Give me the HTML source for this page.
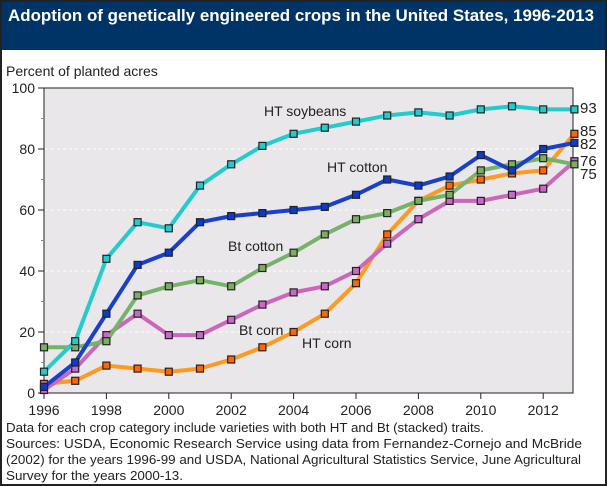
<!DOCTYPE html>
<html><head><meta charset="utf-8"><style>
body{margin:0;background:#fff}
svg{display:block;font-family:"Liberation Sans",Arial,sans-serif}
</style></head><body>
<svg width="607" height="486" viewBox="0 0 607 486" xmlns="http://www.w3.org/2000/svg">
<defs>
<marker id="mo" markerUnits="userSpaceOnUse" markerWidth="10" markerHeight="10" refX="5" refY="5" viewBox="0 0 10 10"><rect x="1.5" y="1.5" width="7" height="7" fill="#ff6600" stroke="#222" stroke-width="1.2"/></marker>
<marker id="mp" markerUnits="userSpaceOnUse" markerWidth="10" markerHeight="10" refX="5" refY="5" viewBox="0 0 10 10"><rect x="1.5" y="1.5" width="7" height="7" fill="#cc66cc" stroke="#222" stroke-width="1.2"/></marker>
<marker id="mg" markerUnits="userSpaceOnUse" markerWidth="10" markerHeight="10" refX="5" refY="5" viewBox="0 0 10 10"><rect x="1.5" y="1.5" width="7" height="7" fill="#7aaf60" stroke="#222" stroke-width="1.2"/></marker>
<marker id="mb" markerUnits="userSpaceOnUse" markerWidth="10" markerHeight="10" refX="5" refY="5" viewBox="0 0 10 10"><rect x="1.5" y="1.5" width="7" height="7" fill="#0a3ccc" stroke="#222" stroke-width="1.2"/></marker>
<marker id="mc" markerUnits="userSpaceOnUse" markerWidth="10" markerHeight="10" refX="5" refY="5" viewBox="0 0 10 10"><rect x="1.5" y="1.5" width="7" height="7" fill="#22cccc" stroke="#222" stroke-width="1.2"/></marker>
</defs>
<rect x="0" y="0" width="607" height="486" fill="#fff"/>
<rect x="0" y="0" width="607" height="50" fill="#003366"/>
<text x="8" y="21" fill="#fff" font-size="17" font-weight="bold" textLength="586" lengthAdjust="spacingAndGlyphs">Adoption of genetically engineered crops in the United States, 1996-2013</text>
<rect x="1" y="1" width="605" height="484" fill="none" stroke="#222" stroke-width="2"/>
<text x="6" y="76" font-size="14" fill="#222">Percent of planted acres</text>
<rect x="44" y="88" width="529" height="305" fill="#e9e7e9" stroke="#222" stroke-width="1"/>
<g stroke="#fff" stroke-dasharray="3,3" stroke-width="1">
<line x1="45" x2="572" y1="149" y2="149"/><line x1="45" x2="572" y1="210" y2="210"/>
<line x1="45" x2="572" y1="271" y2="271"/><line x1="45" x2="572" y1="332" y2="332"/>
</g>
<g stroke="#222" stroke-width="1">
<line x1="38" x2="44" y1="88" y2="88"/><line x1="38" x2="44" y1="149" y2="149"/><line x1="38" x2="44" y1="210" y2="210"/><line x1="38" x2="44" y1="271" y2="271"/><line x1="38" x2="44" y1="332" y2="332"/><line x1="38" x2="44" y1="393" y2="393"/>
<line x1="41" x2="44" y1="118.5" y2="118.5" stroke="#888"/><line x1="41" x2="44" y1="179.5" y2="179.5" stroke="#888"/><line x1="41" x2="44" y1="240.5" y2="240.5" stroke="#888"/><line x1="41" x2="44" y1="301.5" y2="301.5" stroke="#888"/><line x1="41" x2="44" y1="362.5" y2="362.5" stroke="#888"/>
<line x1="44" x2="44" y1="393" y2="399"/><line x1="106.4" x2="106.4" y1="393" y2="399"/><line x1="168.8" x2="168.8" y1="393" y2="399"/><line x1="231.2" x2="231.2" y1="393" y2="399"/><line x1="293.6" x2="293.6" y1="393" y2="399"/><line x1="356" x2="356" y1="393" y2="399"/><line x1="418.4" x2="418.4" y1="393" y2="399"/><line x1="480.8" x2="480.8" y1="393" y2="399"/><line x1="543.2" x2="543.2" y1="393" y2="399"/>
</g>
<g font-size="14" fill="#222" text-anchor="end">
<text x="35" y="93">100</text><text x="35" y="154">80</text><text x="35" y="215">60</text><text x="35" y="276">40</text><text x="35" y="337">20</text><text x="35" y="398">0</text>
</g>
<g font-size="14" fill="#222" text-anchor="middle">
<text x="44" y="415">1996</text><text x="106.4" y="415">1998</text><text x="168.8" y="415">2000</text><text x="231.2" y="415">2002</text><text x="293.6" y="415">2004</text><text x="356" y="415">2006</text><text x="418.4" y="415">2008</text><text x="480.8" y="415">2010</text><text x="543.2" y="415">2012</text>
</g>
<g fill="none" stroke-width="4" stroke-linejoin="round">
<polyline stroke="#ff9922" marker-start="url(#mo)" marker-mid="url(#mo)" marker-end="url(#mo)" points="44,383.9 75.2,380.8 106.4,365.6 137.6,368.6 168.8,371.7 200,368.6 231.2,359.5 262.4,347.3 293.6,332 324.8,313.7 356,283.2 387.2,234.4 418.4,200.9 449.6,185.6 480.8,179.5 512,173.4 543.2,170.4 574.4,133.8"/>
<polyline stroke="#cc66bb" marker-start="url(#mp)" marker-mid="url(#mp)" marker-end="url(#mp)" points="44,390 75.2,368.6 106.4,335.1 137.6,313.7 168.8,335.1 200,335.1 231.2,319.8 262.4,304.6 293.6,292.4 324.8,286.3 356,271 387.2,243.6 418.4,219.2 449.6,200.9 480.8,200.9 512,194.8 543.2,188.7 574.4,161.2"/>
<polyline stroke="#77b26a" marker-start="url(#mg)" marker-mid="url(#mg)" marker-end="url(#mg)" points="44,347.3 75.2,347.3 106.4,341.2 137.6,295.4 168.8,286.3 200,280.2 231.2,286.3 262.4,268 293.6,252.7 324.8,234.4 356,219.2 387.2,213.1 418.4,200.9 449.6,194.8 480.8,170.4 512,164.3 543.2,158.2 574.4,164.3"/>
<polyline stroke="#1a3fcc" marker-start="url(#mb)" marker-mid="url(#mb)" marker-end="url(#mb)" points="44,386.9 75.2,362.5 106.4,313.7 137.6,264.9 168.8,252.7 200,222.2 231.2,216.1 262.4,213.1 293.6,210 324.8,206.9 356,194.8 387.2,179.5 418.4,185.6 449.6,176.5 480.8,155.1 512,170.4 543.2,149 574.4,142.9"/>
<polyline stroke="#22cccc" marker-start="url(#mc)" marker-mid="url(#mc)" marker-end="url(#mc)" points="44,371.7 75.2,341.2 106.4,258.8 137.6,222.2 168.8,228.3 200,185.6 231.2,164.3 262.4,145.9 293.6,133.8 324.8,127.7 356,121.6 387.2,115.5 418.4,112.4 449.6,115.5 480.8,109.4 512,106.3 543.2,109.4 574.4,109.4"/>
</g>
<g font-size="14" fill="#222">
<text x="264" y="116">HT soybeans</text>
<text x="327" y="172">HT cotton</text>
<text x="228" y="251">Bt cotton</text>
<text x="239" y="335">Bt corn</text>
<text x="302" y="348">HT corn</text>
<text x="580" y="113" font-size="15">93</text>
<text x="580" y="136" font-size="15">85</text>
<text x="580" y="149" font-size="15">82</text>
<text x="580" y="166" font-size="15">76</text>
<text x="580" y="179" font-size="15">75</text>
</g>
<g font-size="13" fill="#222">
<text x="6" y="432" textLength="478" lengthAdjust="spacingAndGlyphs">Data for each crop category include varieties with both HT and Bt (stacked) traits.</text>
<text x="6" y="448" textLength="576" lengthAdjust="spacingAndGlyphs">Sources: USDA, Economic Research Service using data from Fernandez-Cornejo and McBride</text>
<text x="6" y="464" textLength="575" lengthAdjust="spacingAndGlyphs">(2002) for the years 1996-99 and USDA, National Agricultural Statistics Service, June Agricultural</text>
<text x="6" y="480" textLength="177" lengthAdjust="spacingAndGlyphs">Survey for the years 2000-13.</text>
</g>
</svg>
</body></html>
